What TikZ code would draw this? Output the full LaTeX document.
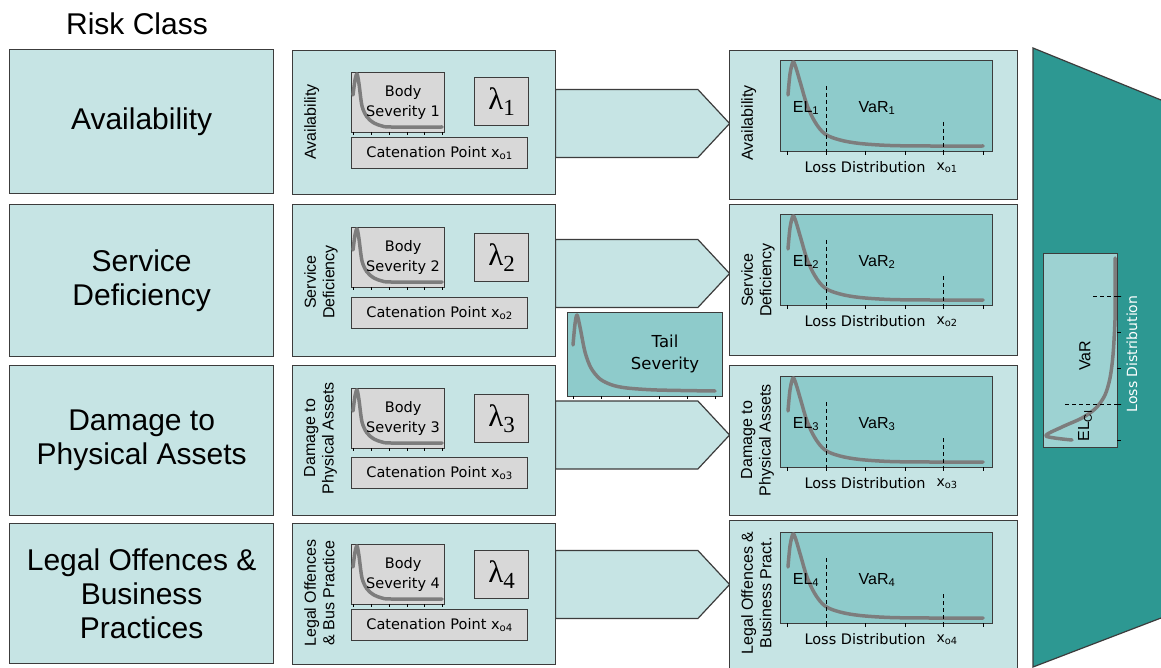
\documentclass[tikz,border=0pt]{standalone}
\usepackage{fontspec}
\setmainfont{Liberation Sans}
\newfontfamily\dv{DejaVu Sans}
\newfontfamily\ser{Liberation Serif}
\usetikzlibrary{shapes.symbols,calc}
\definecolor{boxfill}{RGB}{198,228,228}
\definecolor{bordc}{RGB}{60,60,60}
\definecolor{grayfill}{RGB}{216,216,216}
\definecolor{plotfill}{RGB}{142,203,203}
\definecolor{trapc}{RGB}{45,152,146}
\definecolor{innerc}{RGB}{157,210,210}
\definecolor{curvec}{RGB}{125,125,125}
\begin{document}
\begin{tikzpicture}[x=1pt,y=-1pt,
 tbox/.style={draw=bordc, line width=1.3pt, fill=boxfill, inner sep=0pt, anchor=north west},
 gbox/.style={draw=bordc, line width=1.2pt, fill=grayfill, inner sep=0pt, anchor=north west},
 pbox/.style={draw=bordc, line width=1.2pt, fill=plotfill, inner sep=0pt, anchor=north west},
 sig/.style={signal, signal to=east, signal pointer angle=94, draw=bordc, line width=1.2pt, fill=boxfill, inner sep=0pt, minimum width=174pt, minimum height=68pt, anchor=west},
 crv/.style={draw=curvec, line width=3.5pt, line cap=round, line join=round},
 dsh/.style={draw=black, line width=0.9pt, dash pattern=on 4pt off 3pt},
 tck/.style={draw=black, line width=0.9pt},
 big/.style={font=\fontsize{30}{34}\selectfont, align=center, text=black},
 side/.style={rotate=90, anchor=north, font=\fontsize{16}{18.5}\selectfont, align=center, inner sep=0pt},
 small/.style={font=\dv\fontsize{14.5}{19.5}\selectfont, align=center},
 lbl/.style={font=\fontsize{16}{18}\selectfont, inner sep=0pt},
]
\useasboundingbox (0,0) rectangle (1161,668);
\fill[white] (0,0) rectangle (1161,668);

% title
\node[font=\fontsize{30}{34}\selectfont, inner sep=0pt] (title) at (137,24) {Risk Class};

% big teal trapezoid
\fill[trapc] (1033,48) -- (1161,100) -- (1161,618) -- (1033,667) -- cycle;
\draw[bordc, line width=1.2pt] (1161,100) -- (1033,48) -- (1033,667) -- (1161,618);
\node[draw=bordc, line width=1.2pt, fill=innerc, inner sep=0pt, anchor=north west, minimum width=74pt, minimum height=194pt] (tb) at (1043,253) {};
\draw[crv] plot[smooth, tension=0.5] coordinates {(1072,440) (1046,436) (1062,427) (1082,418) (1096,408) (1105,395) (1110,378) (1113,355) (1115,320) (1115,290) (1115,258)};
\draw[dsh] (1093,296) -- (1121,296);
\draw[dsh] (1065,404) -- (1121,404);
\foreach \ty in {296,332,368,404,440} \draw[tck] (1117,\ty) -- (1121,\ty);
\node[lbl, rotate=90] (tvar) at (1085,356) {VaR};
\node[lbl, rotate=90] (tel) at (1085,426) {EL\textsubscript{CI}};
\node[rotate=90, text=white, font=\dv\fontsize{14}{16}\selectfont, inner sep=0pt] (tld) at (1132,354) {Loss Distribution};

% left column
\foreach \rn/\ry/\rh/\rtxt in {1/49/144/Availability, 2/204/152/{Service\\Deficiency}, 3/365/150/{Damage to\\Physical Assets}, 4/523/140/{Legal Offences \&\\Business\\Practices}}
  \node[tbox, big, minimum width=264pt, minimum height=\rh pt] (c\rn) at (9,\ry) {\rtxt};

% middle column
\foreach \rn/\ry/\rh/\rby/\rly/\rcy/\ray/\rlc/\rtxt in {
 1/50/144/72/77/137/123.5/122/Availability,
 2/204/152/227/233/297/273.5/282/{Service\\Deficiency},
 3/365/150/388/394/457/435/438/{Damage to\\Physical Assets},
 4/523/141/544/550/609/584.5/593/{Legal Offences\\\& Bus Practice}}
{
 \node[tbox, minimum width=263pt, minimum height=\rh pt] (m\rn) at (292,\ry) {};
 \node[side] (ml\rn) at (304,\rlc) {\rtxt};
 \node[gbox, minimum width=93pt, minimum height=60pt] (b\rn) at (351,\rby) {};
 \begin{scope}[shift={(b\rn.north west)}]
  \draw[crv] plot[smooth, tension=0.5] coordinates {(2,23) (4,8) (6,2) (8,12) (11,34) (16,45) (23,51) (31,54) (40,55) (91,55)};
  \foreach \tx in {2,20,38,56,73,91} \draw[tck] (\tx,60) -- (\tx,63);
 \end{scope}
 \node[small] (bt\rn) at ($(b\rn.center)+(5,0)$) {Body\\Severity \rn};
 \node[gbox, minimum width=54pt, minimum height=48pt] (l\rn) at (474,\rly) {\ser\fontsize{31}{31}\selectfont λ\raisebox{-6pt}{\fontsize{23}{23}\selectfont\rn}};
 \node[gbox, small, minimum width=176pt, minimum height=31pt] (k\rn) at (351,\rcy) {Catenation Point x\textsubscript{o\rn}};
 \node[sig] (a\rn) at (555,\ray) {};
}

% tail severity
\node[pbox, minimum width=155pt, minimum height=84pt] (ts) at (567,312) {};
\begin{scope}[shift={(ts.north west)}]
 \draw[crv] plot[smooth, tension=0.5] coordinates {(6,33) (8,12) (10,3) (13,15) (18,40) (24,56) (33,67) (45,73) (60,76) (90,78) (148,79)};
 \foreach \tx in {6,34,62,92,120,148} \draw[tck] (\tx,84) -- (\tx,87);
\end{scope}
\node[font=\dv\fontsize{16.5}{22}\selectfont, align=center] (tst) at (665,354) {Tail\\Severity};

% right column
\foreach \rn/\ry/\rh/\rpy/\rlc/\rtxt in {
 1/50/149/60/123/Availability,
 2/204/151/214/280/{Service\\Deficiency},
 3/365/150/376/440/{Damage to\\Physical Assets},
 4/520/152/532/593/{Legal Offences \&\\Business Pract.}}
{
 \node[tbox, minimum width=288pt, minimum height=\rh pt] (r\rn) at (729,\ry) {};
 \node[side] (rl\rn) at (741,\rlc) {\rtxt};
 \node[pbox, minimum width=212pt, minimum height=91pt] (p\rn) at (780,\rpy) {};
 \begin{scope}[shift={(p\rn.north west)}]
  \draw[crv] plot[smooth, tension=0.55] coordinates {(8,35) (10,14) (13,2) (16,8) (21,25) (27,45) (35,62) (45,74) (60,80) (80,83.5) (110,85.5) (150,86) (203,86)};
  \draw[dsh] (46,26) -- (46,95);
  \draw[dsh] (163,62) -- (163,95);
  \foreach \tx in {7,46,85,125,163,203} \draw[tck] (\tx,91) -- (\tx,95);
  \node[lbl] (el\rn) at (26,48) {EL\textsubscript{\rn}};
  \node[lbl] (var\rn) at (97,48) {VaR\textsubscript{\rn}};
  \node[font=\dv\fontsize{14.5}{16}\selectfont, inner sep=0pt] (ld\rn) at (85,107) {Loss Distribution};
  \node[font=\dv\fontsize{14}{16}\selectfont, inner sep=0pt] (xo\rn) at (167,108) {x\textsubscript{o\rn}};
 \end{scope}
}
\end{tikzpicture}
\end{document}
